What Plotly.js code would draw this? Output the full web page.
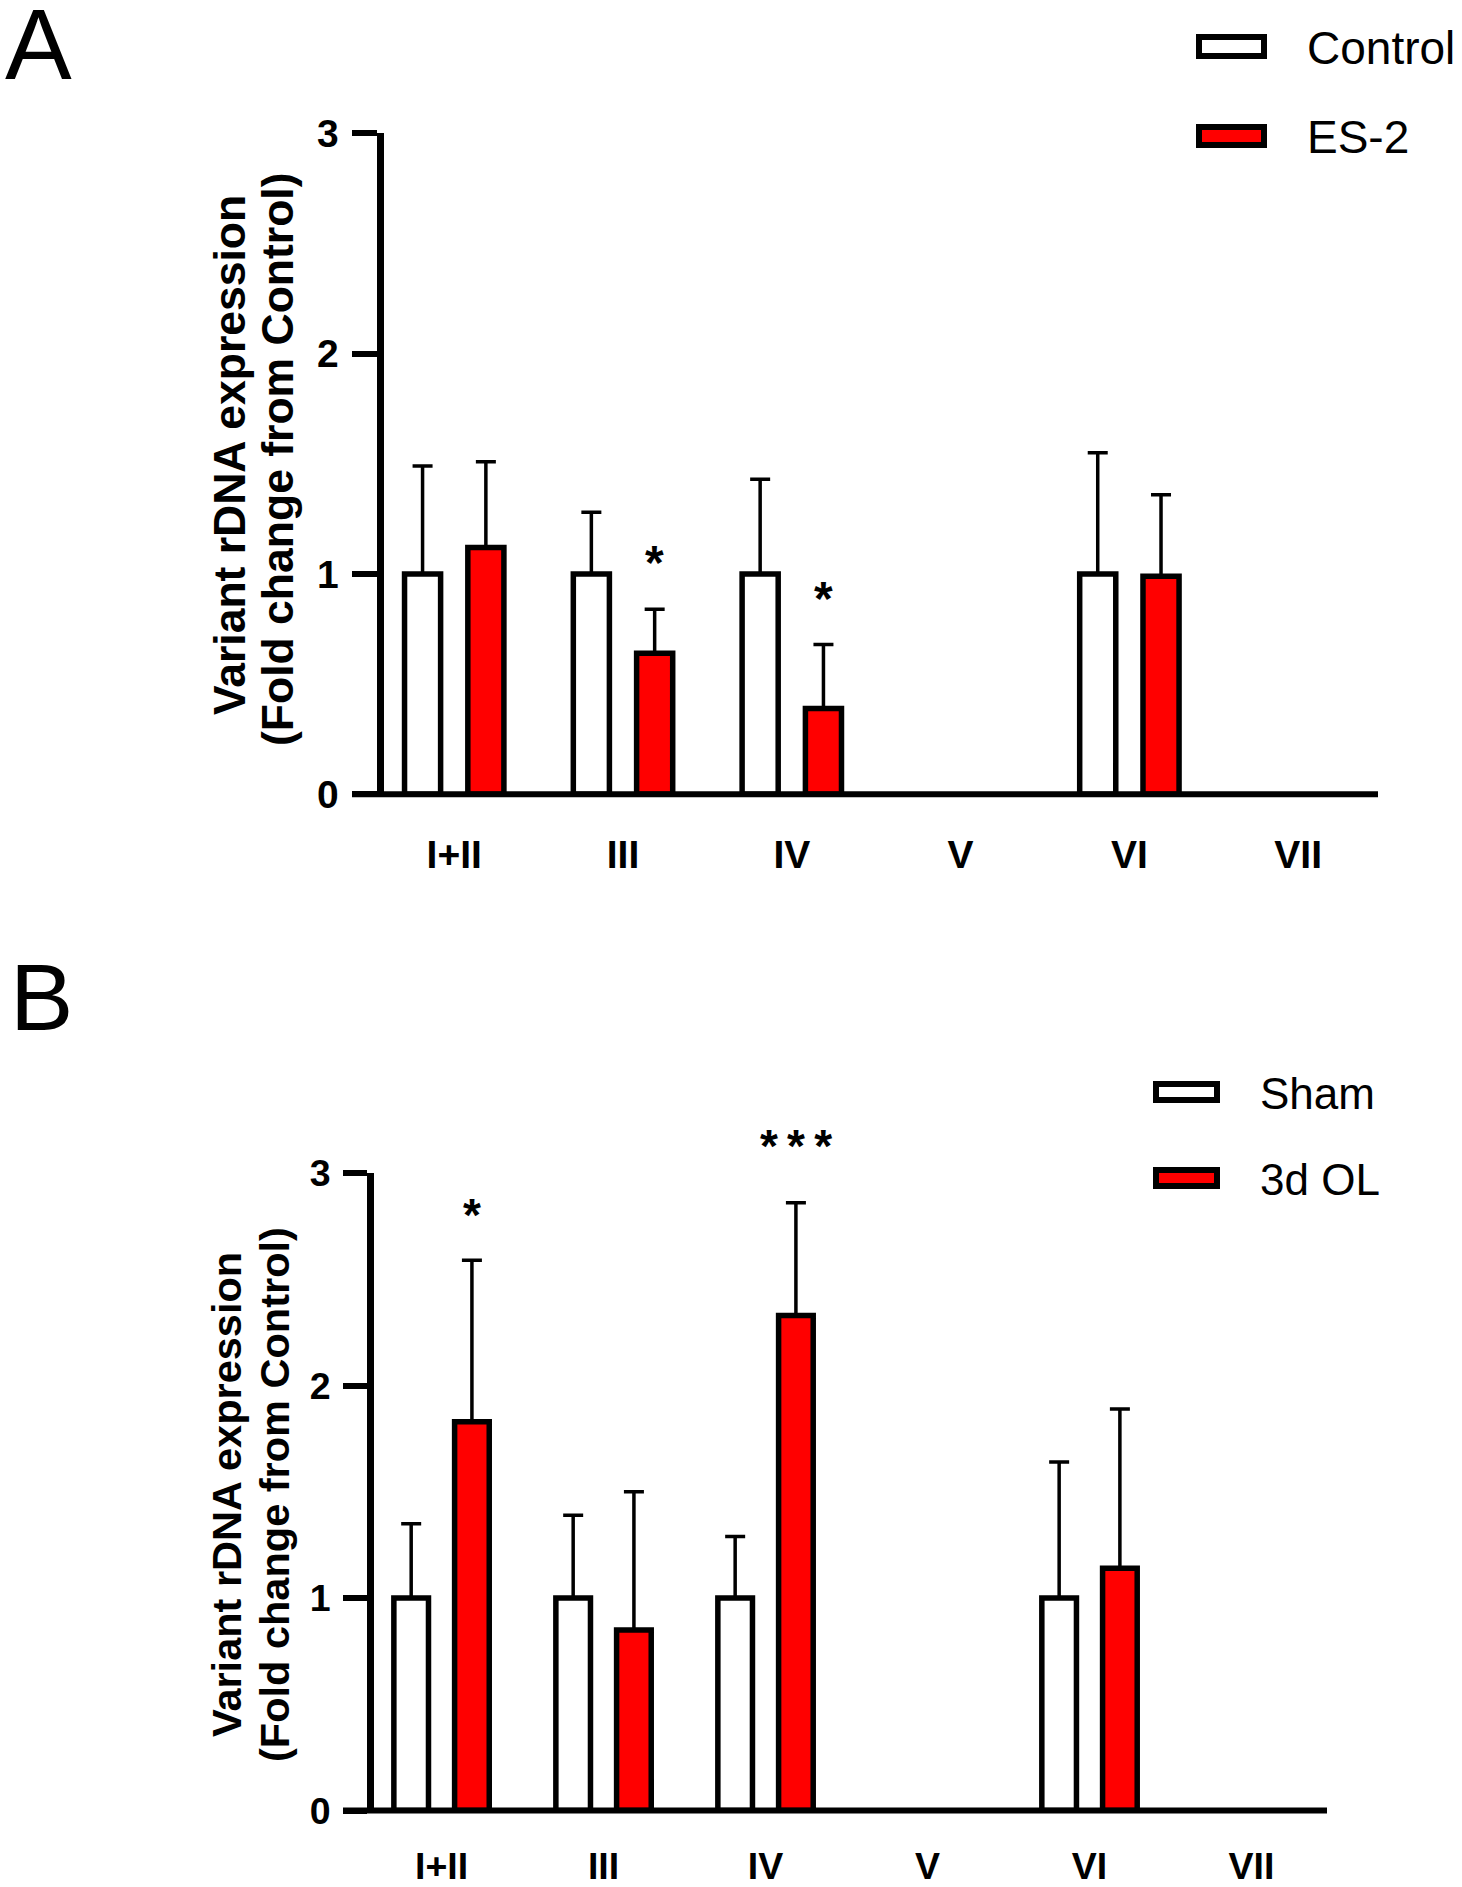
<!DOCTYPE html>
<html>
<head>
<meta charset="utf-8">
<script src="https://cdn.plot.ly/plotly-3.0.1.min.js"></script>
<style>
  html, body { margin: 0; padding: 0; background: #fff; }
  #chart { width: 1462px; height: 1887px; }
</style>
</head>
<body>
<div id="chart"></div>
<script>
// ---------------- DATA ----------------
const categories = ["I+II", "III", "IV", "V", "VI", "VII"];
const yTickVals = [0, 1, 2, 3];

// Panel A
const seriesA1Name = "Control";
const seriesA2Name = "ES-2";
const controlA    = [1.00, 1.00, 1.00, null, 1.00, null];
const controlAErr = [0.49, 0.28, 0.43, null, 0.55, null];
const es2A        = [1.12, 0.64, 0.39, null, 0.99, null];
const es2AErr     = [0.39, 0.20, 0.29, null, 0.37, null];
const sigA        = ["", "*", "*", "", "", ""];

// Panel B
const seriesB1Name = "Sham";
const seriesB2Name = "3d OL";
const shamB    = [1.00, 1.00, 1.00, null, 1.00, null];
const shamBErr = [0.35, 0.39, 0.29, null, 0.64, null];
const olB      = [1.83, 0.85, 2.33, null, 1.14, null];
const olBErr   = [0.76, 0.65, 0.53, null, 0.75, null];
const sigB     = ["*", "", "***", "", "", ""];

const yTitleLine1 = "Variant rDNA expression";
const yTitleLine2 = "(Fold change from Control)";

// ---------------- HELPERS ----------------
const W = 1462, H = 1887;
const px = v => v / W;
const py = v => 1 - v / H;
const FAM = "Liberation Sans, Arial, Helvetica, sans-serif";
const RED = "#FF0000";
const BARGAP = 0.25, BARGROUPGAP = 0.43;
const AXW = 7;

function barTrace(name, y, err, fill, xa, ya) {
  return {
    type: "bar", name: name, x: categories, y: y, xaxis: xa, yaxis: ya,
    marker: { color: fill, line: { color: "#000", width: 5.5 } },
    error_y: {
      type: "data", symmetric: false, array: err,
      arrayminus: err.map(v => (v == null ? null : 0)),
      color: "#000", thickness: 3.5, width: 10
    },
    showlegend: false, hoverinfo: "skip"
  };
}

const data = [
  barTrace(seriesA1Name, controlA, controlAErr, "#FFFFFF", "x", "y"),
  barTrace(seriesA2Name, es2A, es2AErr, RED, "x", "y"),
  barTrace(seriesB1Name, shamB, shamBErr, "#FFFFFF", "x2", "y2"),
  barTrace(seriesB2Name, olB, olBErr, RED, "x2", "y2")
];

function xAxis(domain, anchor, range, fsize, standoff) {
  return {
    domain: domain, anchor: anchor, type: "category", range: range,
    showline: false, ticks: "", showgrid: false, zeroline: false, fixedrange: true,
    tickfont: { family: FAM, size: fsize, color: "#000", weight: "bold" },
    ticklabelstandoff: standoff
  };
}
function yAxis(domain, anchor, fsize, ticklen) {
  return {
    domain: domain, anchor: anchor, range: [0, 3], tickvals: yTickVals,
    ticktext: yTickVals.map(String),
    showline: true, linewidth: AXW, linecolor: "#000",
    ticks: "outside", ticklen: ticklen, tickwidth: 6, tickcolor: "#000",
    showgrid: false, zeroline: false, fixedrange: true,
    tickfont: { family: FAM, size: fsize, color: "#000", weight: "bold" },
    ticklabelstandoff: 5
  };
}

// axis baselines in paper space (not clipped), extended left to the 0 tick
const Y0A = 794.3, Y0B = 1810.6;
const shapes = [
  { type: "line", xref: "paper", yref: "paper", x0: px(352), x1: px(1378), y0: py(Y0A), y1: py(Y0A),
    line: { color: "#000", width: 6 }, layer: "above" },
  { type: "line", xref: "paper", yref: "paper", x0: px(343), x1: px(1327), y0: py(Y0B), y1: py(Y0B),
    line: { color: "#000", width: 6 }, layer: "above" },
  // legend swatches A
  { type: "rect", xref: "paper", yref: "paper", x0: px(1199), x1: px(1264), y0: py(56), y1: py(37),
    line: { color: "#000", width: 6 }, fillcolor: "#FFFFFF" },
  { type: "rect", xref: "paper", yref: "paper", x0: px(1199), x1: px(1264), y0: py(145), y1: py(127),
    line: { color: "#000", width: 6 }, fillcolor: RED },
  // legend swatches B
  { type: "rect", xref: "paper", yref: "paper", x0: px(1156), x1: px(1217), y0: py(1100), y1: py(1084),
    line: { color: "#000", width: 6 }, fillcolor: "#FFFFFF" },
  { type: "rect", xref: "paper", yref: "paper", x0: px(1156), x1: px(1217), y0: py(1186), y1: py(1170),
    line: { color: "#000", width: 6 }, fillcolor: RED }
];

const annotations = [];
function txt(text, x, y, size, opts) {
  annotations.push(Object.assign({
    xref: "paper", yref: "paper", x: x, y: y, text: text, showarrow: false,
    xanchor: "left", yanchor: "middle",
    font: { family: FAM, size: size, color: "#000" }
  }, opts || {}));
}
// panel letters
txt("A", px(3), py(44), 100);
txt("B", px(8), py(997), 95);
// legends
txt(seriesA1Name, px(1305), py(48), 46);
txt(seriesA2Name, px(1305), py(137), 46);
txt(seriesB1Name, px(1258), py(1093), 44);
txt(seriesB2Name, px(1258), py(1179), 44);
// y titles
const boldFont = s => ({ family: FAM, size: s, color: "#000", weight: "bold" });
txt(yTitleLine1, px(230), py(455), 44.5, { xanchor: "center", textangle: -90, font: boldFont(44.5) });
txt(yTitleLine2, px(278), py(459), 44.5, { xanchor: "center", textangle: -90, font: boldFont(44.5) });
txt(yTitleLine1, px(226), py(1495), 41.5, { xanchor: "center", textangle: -90, font: boldFont(41.5) });
txt(yTitleLine2, px(274), py(1495), 41.5, { xanchor: "center", textangle: -90, font: boldFont(41.5) });

// significance stars above the second series' error bars
const offset2 = (1 - BARGAP) / 4;
function stars(sig, vals, errs, xa, ya, size, shift) {
  sig.forEach((s, i) => {
    if (!s) return;
    const extra = s.length > 1 ? 12 : 0;
    annotations.push({
      xref: xa, yref: ya, x: i + offset2, y: vals[i] + errs[i],
      text: s.split("").join("\u2009"), showarrow: false,
      xanchor: "center", yanchor: "bottom", yshift: shift + extra,
      font: { family: FAM, size: size, color: "#000", weight: "bold" }
    });
  });
}
stars(sigA, es2A, es2AErr, "x", "y", 48, 18);
stars(sigB, olB, olBErr, "x2", "y2", 46, 17);

const layout = {
  width: W, height: H,
  margin: { l: 0, r: 0, t: 0, b: 0, pad: 0 },
  paper_bgcolor: "#FFFFFF", plot_bgcolor: "#FFFFFF",
  barmode: "group", bargap: BARGAP, bargroupgap: BARGROUPGAP,
  showlegend: false,
  xaxis: xAxis([px(383.5), px(1378)], "y", [-0.419, 5.473], 39, 34),
  yaxis: yAxis([py(Y0A), py(133.4)], "x", 39, 25),
  xaxis2: xAxis([px(374), px(1327)], "y2", [-0.417, 5.466], 37.5, 30),
  yaxis2: yAxis([py(Y0B), py(1173)], "x2", 37.5, 24),
  shapes: shapes,
  annotations: annotations
};

Plotly.newPlot("chart", data, layout, { displayModeBar: false, staticPlot: true });
</script>
</body>
</html>
